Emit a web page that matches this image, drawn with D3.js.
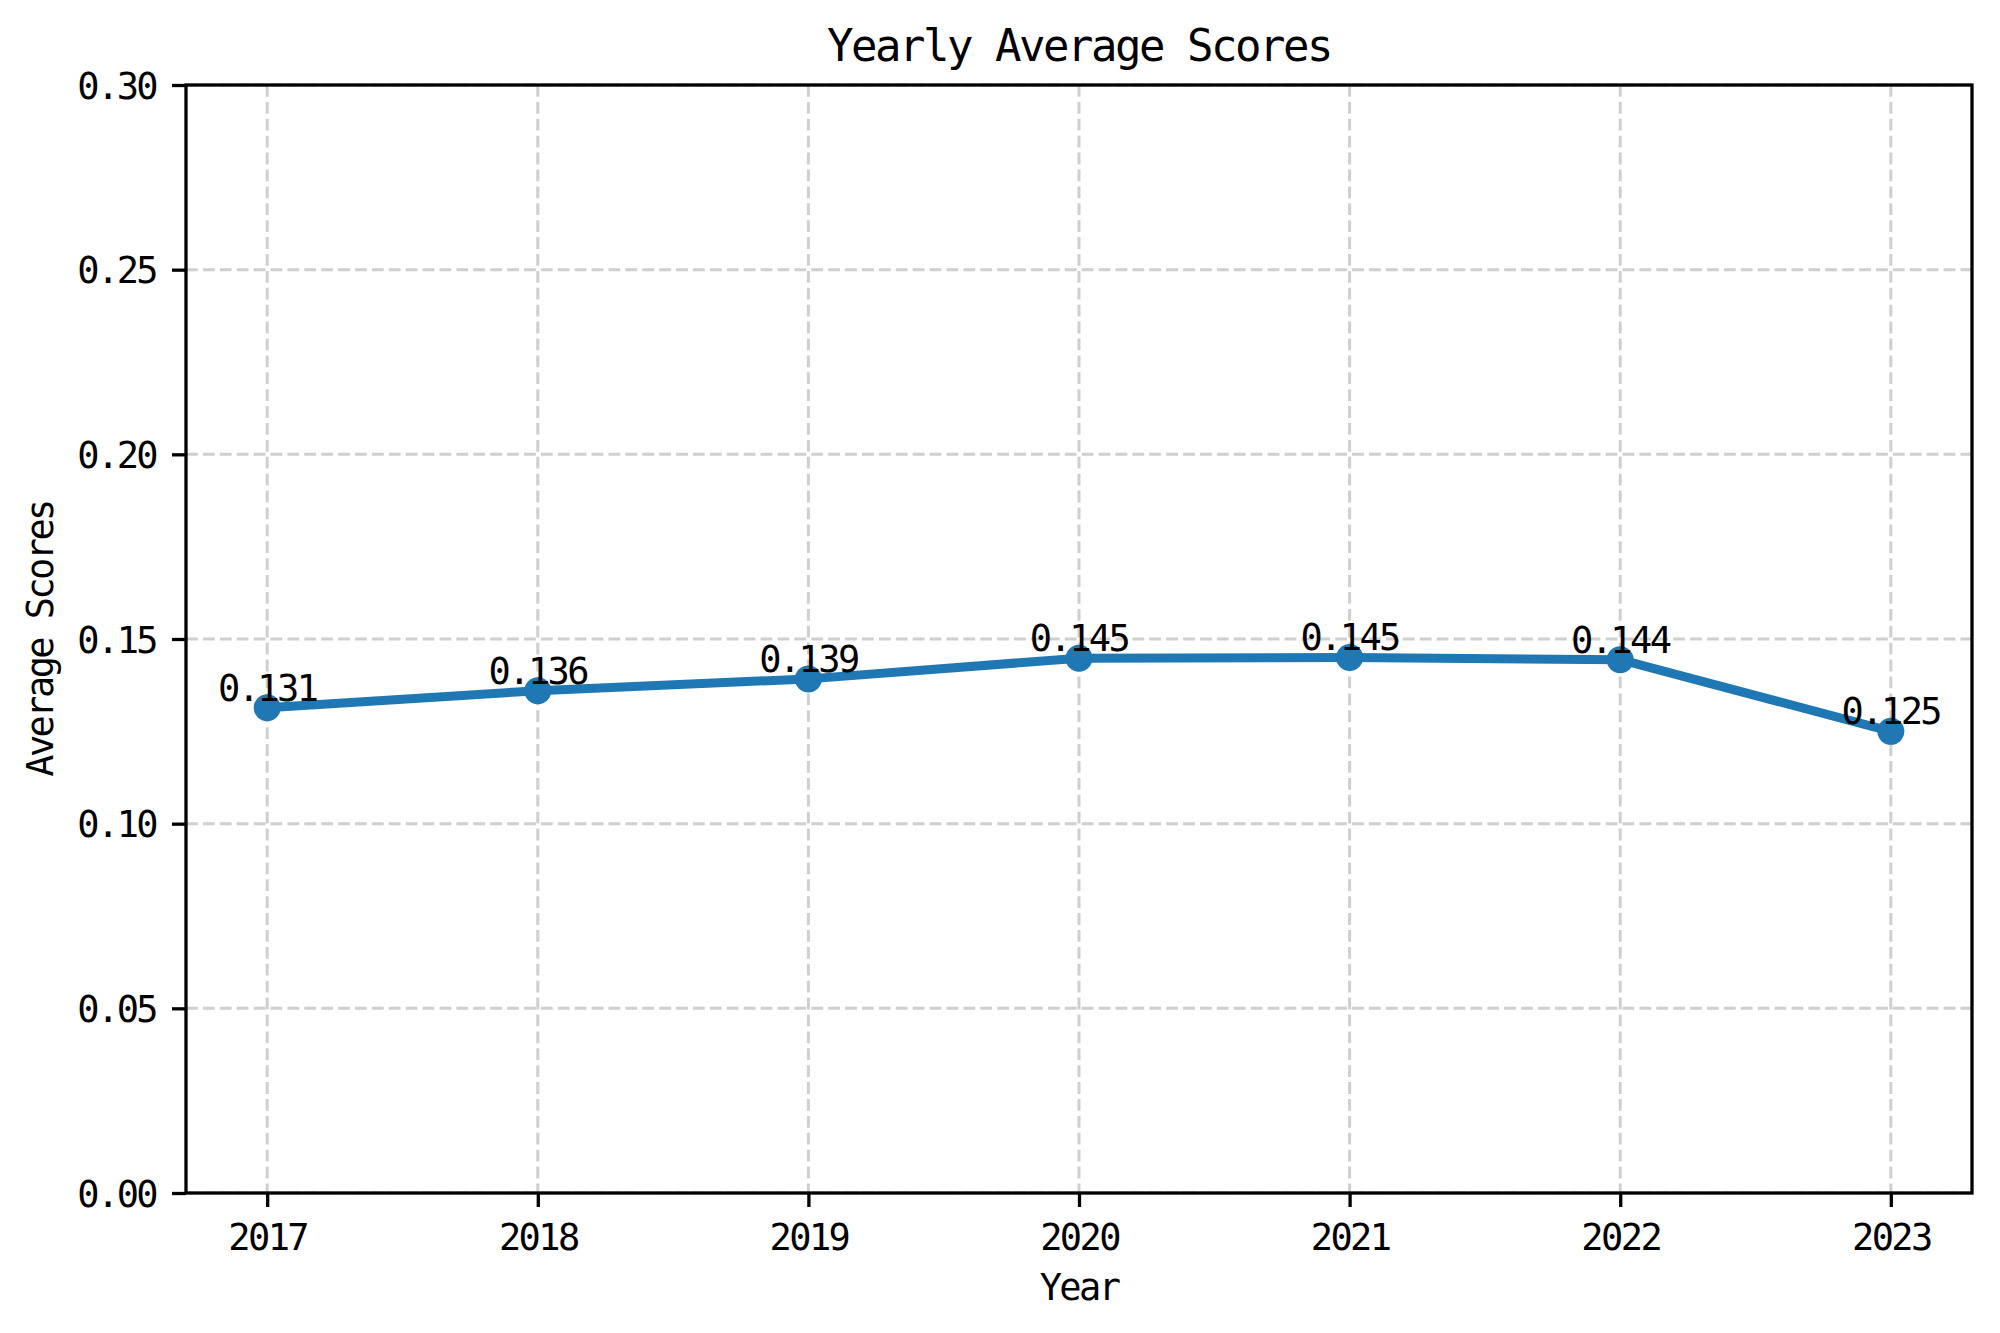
<!DOCTYPE html>
<html>
<head>
<meta charset="utf-8">
<script src="https://cdn.jsdelivr.net/npm/d3@7"></script>
<style>
  body { margin: 0; background: #fff; }
  text { font-family: "DejaVu Sans Mono", "Liberation Mono", monospace; fill: #000; }
</style>
</head>
<body>
<svg id="chart" width="2000" height="1333"></svg>
<script>
const years = [2017, 2018, 2019, 2020, 2021, 2022, 2023];
const scores = [0.1314, 0.1360, 0.1392, 0.1448, 0.1450, 0.1444, 0.1250];
const yTicks = [0.00, 0.05, 0.10, 0.15, 0.20, 0.25, 0.30];
const titleText = "Yearly Average Scores";
const xLabelText = "Year";
const yLabelText = "Average Scores";

const W = 2000, H = 1333;
const m = { left: 186, right: 28, top: 85, bottom: 140 };
const pw = W - m.left - m.right;   // 1786
const ph = H - m.top - m.bottom;   // 1108

const svg = d3.select("#chart");
svg.append("rect").attr("width", W).attr("height", H).attr("fill", "#fff");

const x = d3.scaleLinear().domain([2016.7, 2023.3]).range([0, pw]);
const y = d3.scaleLinear().domain([0, 0.30]).range([ph, 0]);

const g = svg.append("g").attr("transform", `translate(${m.left},${m.top})`);

const smallFont = 37, ls = -2.6;

// grid
const grid = g.append("g").attr("class", "grid");
grid.selectAll("line.v").data(years).join("line")
  .attr("x1", d => x(d)).attr("x2", d => x(d))
  .attr("y1", 0).attr("y2", ph)
  .attr("stroke", "#cfcfcf").attr("stroke-width", 3)
  .attr("stroke-dasharray", "11.8,5.1");
grid.selectAll("line.h").data(yTicks).join("line")
  .attr("x1", 0).attr("x2", pw)
  .attr("y1", d => y(d)).attr("y2", d => y(d))
  .attr("stroke", "#cfcfcf").attr("stroke-width", 3)
  .attr("stroke-dasharray", "11.8,5.1");

// line + markers
const pts = years.map((yr, i) => ({ yr, v: scores[i] }));
g.append("path").datum(pts)
  .attr("d", d3.line().x(d => x(d.yr)).y(d => y(d.v)))
  .attr("fill", "none").attr("stroke", "#1f77b4")
  .attr("stroke-width", 9).attr("stroke-linejoin", "round").attr("stroke-linecap", "butt");
g.selectAll("circle.pt").data(pts).join("circle")
  .attr("cx", d => x(d.yr)).attr("cy", d => y(d.v)).attr("r", 13.5)
  .attr("fill", "#1f77b4");

// value labels
g.selectAll("text.val").data(pts).join("text")
  .attr("x", d => x(d.yr)).attr("y", d => y(d.v) - 7)
  .attr("text-anchor", "middle")
  .attr("font-size", smallFont).attr("letter-spacing", ls)
  .text(d => d.v.toFixed(3));

// axes
const xAxis = d3.axisBottom(x).tickValues(years).tickFormat(d3.format("d")).tickSize(14).tickPadding(10);
const xg = g.append("g").attr("transform", `translate(0,${ph})`).call(xAxis);
xg.select(".domain").remove();
xg.selectAll(".tick line").attr("stroke", "#000").attr("stroke-width", 3.3);
xg.selectAll(".tick text").attr("y", 57).attr("dy", 0)
  .attr("font-size", smallFont).attr("letter-spacing", ls).attr("fill", "#000");

const yAxis = d3.axisLeft(y).tickValues(yTicks).tickFormat(d3.format(".2f")).tickSize(14).tickPadding(16);
const yg = g.append("g").call(yAxis);
yg.select(".domain").remove();
yg.selectAll(".tick line").attr("stroke", "#000").attr("stroke-width", 3.3);
yg.selectAll(".tick text").attr("dy", 13).attr("x", -30)
  .attr("font-size", smallFont).attr("letter-spacing", ls).attr("fill", "#000");
yg.attr("font-family", null); xg.attr("font-family", null);

// spines
g.append("rect").attr("x", 0).attr("y", 0).attr("width", pw).attr("height", ph)
  .attr("fill", "none").attr("stroke", "#000").attr("stroke-width", 3.3);

// title and labels
svg.append("text").attr("x", m.left + pw / 2).attr("y", 61)
  .attr("text-anchor", "middle").attr("font-size", 44).attr("letter-spacing", -2.5)
  .text(titleText);
svg.append("text").attr("x", m.left + pw / 2).attr("y", 1300)
  .attr("text-anchor", "middle").attr("font-size", smallFont).attr("letter-spacing", ls)
  .text(xLabelText);
svg.append("text").attr("transform", `translate(53,${m.top + ph / 2}) rotate(-90)`)
  .attr("text-anchor", "middle").attr("font-size", smallFont).attr("letter-spacing", ls)
  .text(yLabelText);
</script>
</body>
</html>
